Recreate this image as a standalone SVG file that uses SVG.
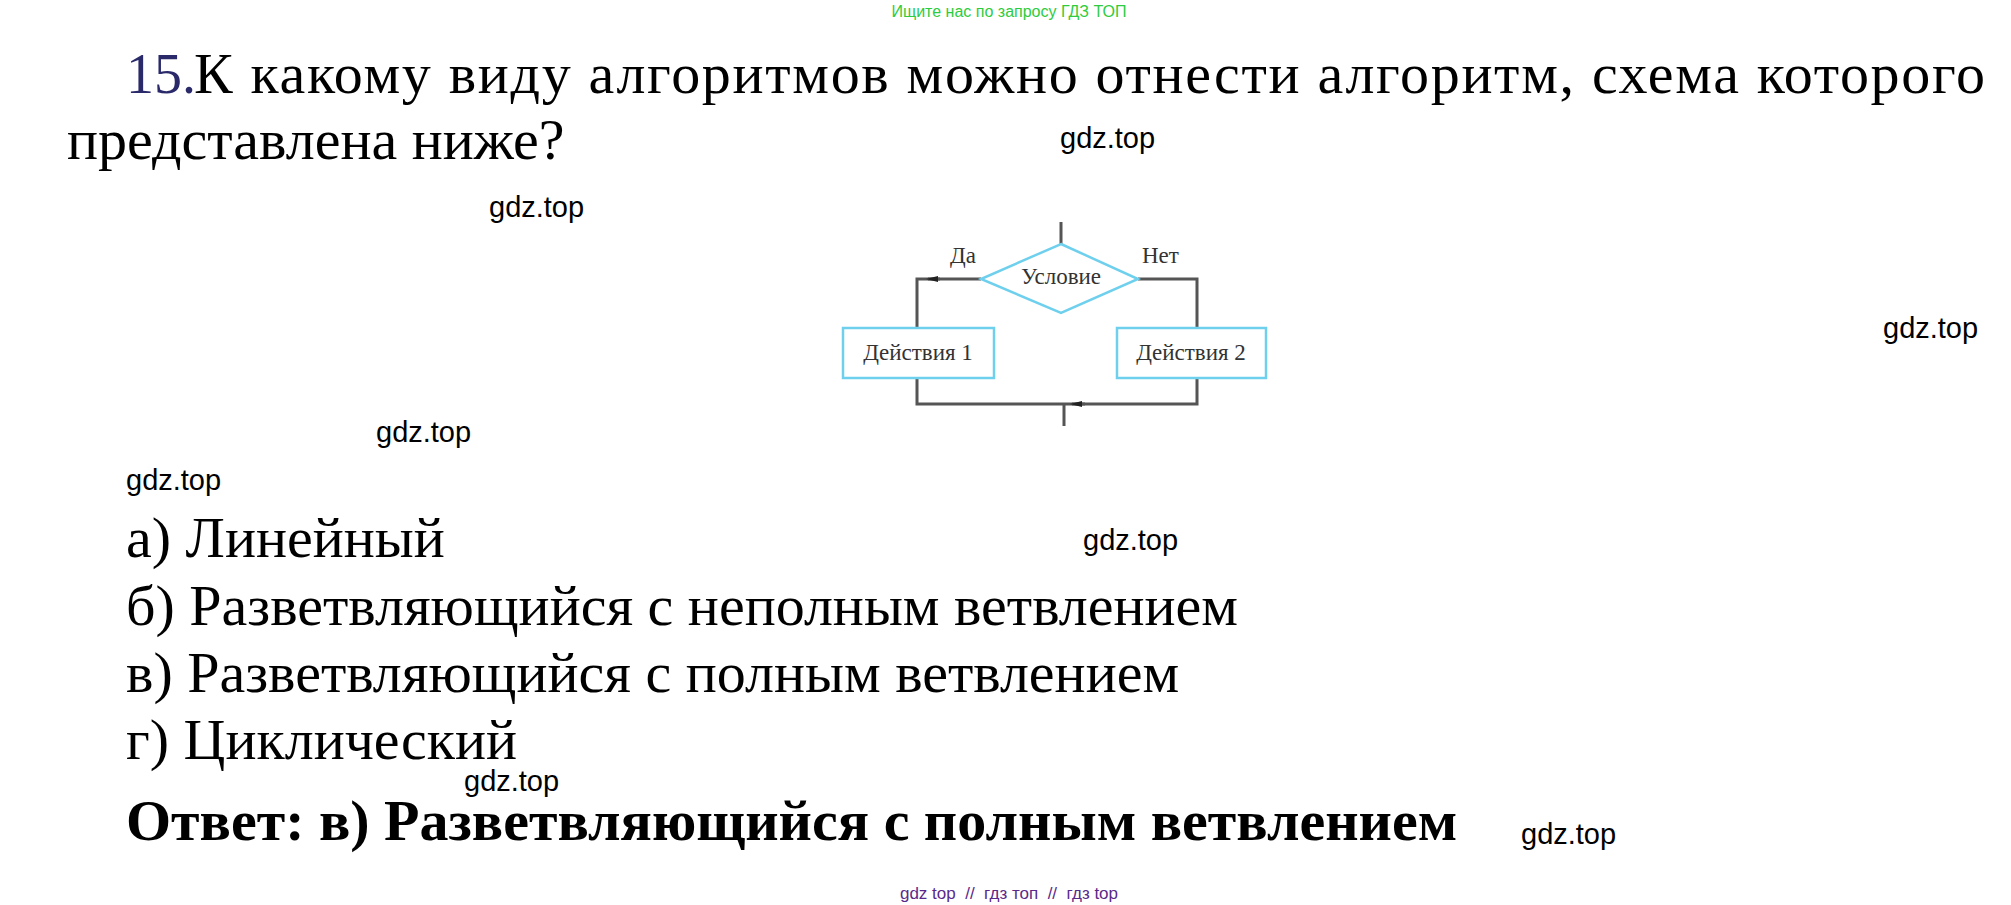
<svg xmlns="http://www.w3.org/2000/svg" width="2011" height="905" viewBox="0 0 2011 905">
<style>
.t{font-family:"Liberation Serif",serif;fill:#000}
.w{font-family:"Liberation Sans",sans-serif;font-size:29px;fill:#000}
.f{font-family:"Liberation Serif",serif;font-size:23px;fill:#333}
.ln{fill:none;stroke:#555;stroke-width:3}
.bx{fill:#fff;stroke:#6fd0ee;stroke-width:2.5}
</style>
<defs><marker id="a" markerUnits="userSpaceOnUse" markerWidth="12" markerHeight="8" refX="2" refY="4" orient="auto"><path d="M12,1L0,4L12,7z" fill="#222"/></marker></defs>
<rect width="2011" height="905" fill="#fff"/>
<text x="1009" y="17" font-family="Liberation Sans,sans-serif" font-size="16" fill="#2ecc40" text-anchor="middle">Ищите нас по запросу ГДЗ ТОП</text>
<text class="t" x="126" y="93" font-size="56" style="fill:#2a2a6a">15.</text>
<text class="t" x="194" y="93" font-size="58" textLength="1791" lengthAdjust="spacing">К какому виду алгоритмов можно отнести алгоритм, схема которого</text>
<text class="t" x="67" y="159" font-size="58">представлена ниже?</text>
<g id="connectors">
<line class="ln" x1="1061" y1="222" x2="1061" y2="244"/>
<polyline class="ln" points="981,279 917,279 917,328"/>
<line class="ln" x1="928" y1="279" x2="940" y2="279" marker-start="url(#a)"/>
<polyline class="ln" points="1138,279 1197,279 1197,328"/>
<polyline class="ln" points="917,378 917,404 1197,404 1197,378"/>
<line class="ln" x1="1072" y1="404" x2="1085" y2="404" marker-start="url(#a)"/>
<line class="ln" x1="1064" y1="404" x2="1064" y2="426"/>
</g>
<g id="cond"><polygon class="bx" points="1061,244 1138,279 1061,313 981,279"/><text class="f" x="1061" y="284" text-anchor="middle">Условие</text></g>
<text class="f" x="950" y="263">Да</text>
<text class="f" x="1142" y="263">Нет</text>
<g id="act1"><rect class="bx" x="843" y="328" width="151" height="50"/><text class="f" x="918" y="360" text-anchor="middle">Действия 1</text></g>
<g id="act2"><rect class="bx" x="1117" y="328" width="149" height="50"/><text class="f" x="1191" y="360" text-anchor="middle">Действия 2</text></g>
<text class="t" x="126" y="557" font-size="58">а) Линейный</text>
<text class="t" x="126" y="625" font-size="58">б) Разветвляющийся с неполным ветвлением</text>
<text class="t" x="126" y="692" font-size="58">в) Разветвляющийся с полным ветвлением</text>
<text class="t" x="126" y="759" font-size="58">г) Циклический</text>
<text class="t" x="126" y="840" font-size="58" font-weight="bold">Ответ: в) Разветвляющийся с полным ветвлением</text>
<g class="w">
<text x="1060" y="148">gdz.top</text><text x="489" y="217">gdz.top</text><text x="1883" y="338">gdz.top</text><text x="376" y="442">gdz.top</text>
<text x="126" y="490">gdz.top</text><text x="1083" y="550">gdz.top</text><text x="464" y="791">gdz.top</text><text x="1521" y="844">gdz.top</text>
</g>
<text x="1009" y="899" font-family="Liberation Sans,sans-serif" font-size="17" fill="#5a2a8a" text-anchor="middle" xml:space="preserve">gdz top  //  гдз топ  //  гдз top</text>
</svg>
